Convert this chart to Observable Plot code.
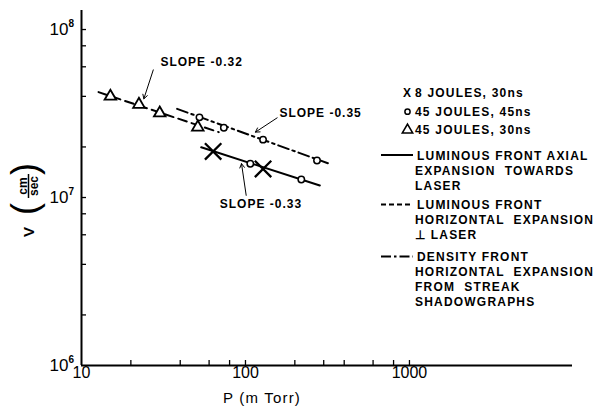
<!DOCTYPE html>
<html>
<head>
<meta charset="utf-8">
<script src="https://cdn.jsdelivr.net/npm/d3@7"></script>
<script src="https://cdn.jsdelivr.net/npm/@observablehq/plot@0.6"></script>
<style>
  html, body { margin: 0; padding: 0; background: #fff; }
  svg text { font-family: "Liberation Sans", Arial, sans-serif; }
</style>
</head>
<body>
<div id="chart"></div>
<script>
// ---- data ----
const triP = [15.0, 22.4, 30.0, 51.2];           // 45 J, 30 ns (triangles)
const triV = [4.0e7, 3.58e7, 3.18e7, 2.62e7];
const circP = [52.4, 73.8, 128, 273, 107, 219];   // 45 J, 45 ns (circles)
const circV = [3.0e7, 2.6e7, 2.21e7, 1.66e7, 1.59e7, 1.28e7];
const crossP = [63.5, 128];                        // 8 J, 30 ns (crosses)
const crossV = [1.88e7, 1.48e7];

const solidP = [53.7, 284];      const solidV = [1.99e7, 1.18e7];   // slope -0.33
const dashP = [12.7, 68.7];      const dashV = [4.24e7, 2.45e7];    // slope -0.32
const dashdotP = [38.3, 318];    const dashdotV = [3.37e7, 1.6e7];  // slope -0.35

const slopeText = ["SLOPE -0.32", "SLOPE -0.35", "SLOPE -0.33"];
const slopeP = [30.3, 161, 69.7];
const slopeV = [6.38e7, 3.18e7, 9.08e6];
const arrowFromP = [27.4, 156, 101];
const arrowFromV = [5.75e7, 2.98e7, 1.03e7];
const arrowToP = [24.0, 115, 94.6];
const arrowToV = [3.87e7, 2.45e7, 1.59e7];

const xMinorTicks = [20, 40, 60, 80, 100, 200, 300, 400, 600, 800, 1000];
const xTickLabels = [10, 100, 1000];
const yMinorTicks = [2e6, 4e6, 6e6, 8e6, 1e7, 2e7, 4e7, 6e7, 8e7, 1e8];
const yDecades = [1e6, 1e7, 1e8];

const markerLegend = ["8 JOULES, 30ns", "45 JOULES, 45ns", "45 JOULES, 30ns"];
const lineLegend = [
  ["LUMINOUS FRONT AXIAL", "EXPANSION  TOWARDS", "LASER"],
  ["LUMINOUS FRONT", "HORIZONTAL  EXPANSION", "\u22A5 LASER"],
  ["DENSITY FRONT", "HORIZONTAL  EXPANSION", "FROM  STREAK", "SHADOWGRAPHS"]
];

// ---- build tables ----
const zip = (a, b) => a.map((v, i) => ({p: v, v: b[i]}));
const tri = zip(triP, triV), circ = zip(circP, circV), cross = zip(crossP, crossV);
const solid = zip(solidP, solidV), dash = zip(dashP, dashV), dashdot = zip(dashdotP, dashdotV);
const slopes = slopeText.map((t, i) => ({t, p: slopeP[i], v: slopeV[i]}));
const arrows = arrowFromP.map((p, i) => ({p1: p, v1: arrowFromV[i], p2: arrowToP[i], v2: arrowToV[i]}));

const FONT = '"Liberation Sans", Arial, sans-serif';

const plot = Plot.plot({
  width: 595,
  height: 409,
  marginLeft: 81,
  marginRight: 23,
  marginTop: 10,
  marginBottom: 44,
  style: {fontFamily: FONT, background: "white", color: "black"},
  x: {type: "log", domain: [10, 9870], axis: null},
  y: {type: "log", domain: [1e6, 1.298e8], axis: null},
  marks: [
    Plot.ruleY([1e6], {strokeWidth: 2}),
    Plot.ruleX([10], {strokeWidth: 2}),
    Plot.tickX(xMinorTicks, {x: d => d, insetTop: 350, strokeWidth: 1.3}),
    Plot.tickY(yMinorTicks, {y: d => d, insetRight: 486, strokeWidth: 1.3}),
    Plot.text(xTickLabels, {x: d => d, frameAnchor: "bottom", dy: 12, text: d => String(d), fontSize: 16}),
    Plot.text(yDecades, {y: d => d, frameAnchor: "left", dx: -13, textAnchor: "end", text: () => "10", fontSize: 17}),
    Plot.text(yDecades, {y: d => d, frameAnchor: "left", dx: -13, dy: -6, textAnchor: "start", text: d => String(Math.round(Math.log10(d))), fontSize: 10, fontWeight: "bold"}),
    Plot.line(solid, {x: "p", y: "v", strokeWidth: 2}),
    Plot.line(dash, {x: "p", y: "v", strokeWidth: 2, strokeDasharray: "9,5"}),
    Plot.line(dashdot, {x: "p", y: "v", strokeWidth: 2, strokeDasharray: "11,4,2.5,4"}),
    Plot.dot(tri, {x: "p", y: "v", symbol: "triangle", r: 4.3, stroke: "black", fill: "white", strokeWidth: 1.8}),
    Plot.dot(circ, {x: "p", y: "v", symbol: "circle", r: 3.2, stroke: "black", fill: "white", strokeWidth: 1.5}),
    Plot.dot(cross, {x: "p", y: "v", symbol: "times", r: 7.5, stroke: "black", strokeWidth: 2.3}),
    Plot.arrow(arrows, {x1: "p1", y1: "v1", x2: "p2", y2: "v2", strokeWidth: 1, headLength: 7}),
    Plot.text(slopes, {x: "p", y: "v", text: "t", textAnchor: "start", fontSize: 12, fontWeight: "bold"})
  ]
});

const svg = d3.select(plot);
svg.selectAll("text").filter(function() { return this.textContent.startsWith("SLOPE"); })
  .style("letter-spacing", "1px");

// y-axis label: V (cm/sec), rotated
const yl = svg.append("g").attr("transform", "translate(28.5,186) rotate(-90)")
  .attr("fill", "black").attr("text-anchor", "middle").style("font-family", FONT);
yl.append("text").attr("x", -46).attr("y", 5)
  .style("font-size", "15px").style("font-weight", "600").text("V");
yl.append("text").attr("x", -23).attr("y", 8)
  .style("font-size", "36px").style("font-weight", "300").text("(");
yl.append("text").attr("x", 0).attr("y", -2)
  .style("font-size", "12px").style("font-weight", "bold").text("cm");
yl.append("line").attr("x1", -12).attr("x2", 12).attr("y1", 0).attr("y2", 0)
  .attr("stroke", "black").attr("stroke-width", 1.5);
yl.append("text").attr("x", 0).attr("y", 9)
  .style("font-size", "12px").style("font-weight", "bold").text("sec");
yl.append("text").attr("x", 17).attr("y", 8)
  .style("font-size", "36px").style("font-weight", "300").text(")");

// x-axis label
svg.append("text").attr("x", 262).attr("y", 403).attr("text-anchor", "middle")
  .style("font-size", "15px").style("letter-spacing", "1.2px").attr("fill", "black").text("P (m Torr)");

// legend
const lg = svg.append("g").attr("fill", "black").attr("text-anchor", "start")
  .style("font-size", "12px").style("font-weight", "bold").style("letter-spacing", "1.2px");
const rowY = [97.3, 115.7, 134];
markerLegend.forEach((t, i) => {
  lg.append("text").attr("x", 415).attr("y", rowY[i]).text(t);
});
lg.append("text").attr("x", 403).attr("y", rowY[0]).style("letter-spacing", "0").text("X");
lg.append("circle").attr("cx", 407.5).attr("cy", rowY[1] - 4).attr("r", 2.6)
  .attr("fill", "white").attr("stroke", "black").attr("stroke-width", 1.5);
lg.append("path").attr("d", d3.symbol(d3.symbolTriangle, 46)())
  .attr("transform", `translate(407.5,${rowY[2] - 4})`)
  .attr("fill", "white").attr("stroke", "black").attr("stroke-width", 1.6);

const groupY = [159.5, 209, 261];
const dashes = [null, "5,3", "10,3,2.5,3"];
lineLegend.forEach((lines, g) => {
  lg.append("line").attr("x1", 381).attr("x2", 413)
    .attr("y1", groupY[g] - 4.5).attr("y2", groupY[g] - 4.5)
    .attr("stroke", "black").attr("stroke-width", 2)
    .attr("stroke-dasharray", dashes[g]);
  lines.forEach((t, k) => {
    lg.append("text").attr("x", k === 0 ? 417 : 415).attr("y", groupY[g] + k * 15)
      .style("white-space", "pre").text(t);
  });
});

document.getElementById("chart").appendChild(plot);
</script>
</body>
</html>
